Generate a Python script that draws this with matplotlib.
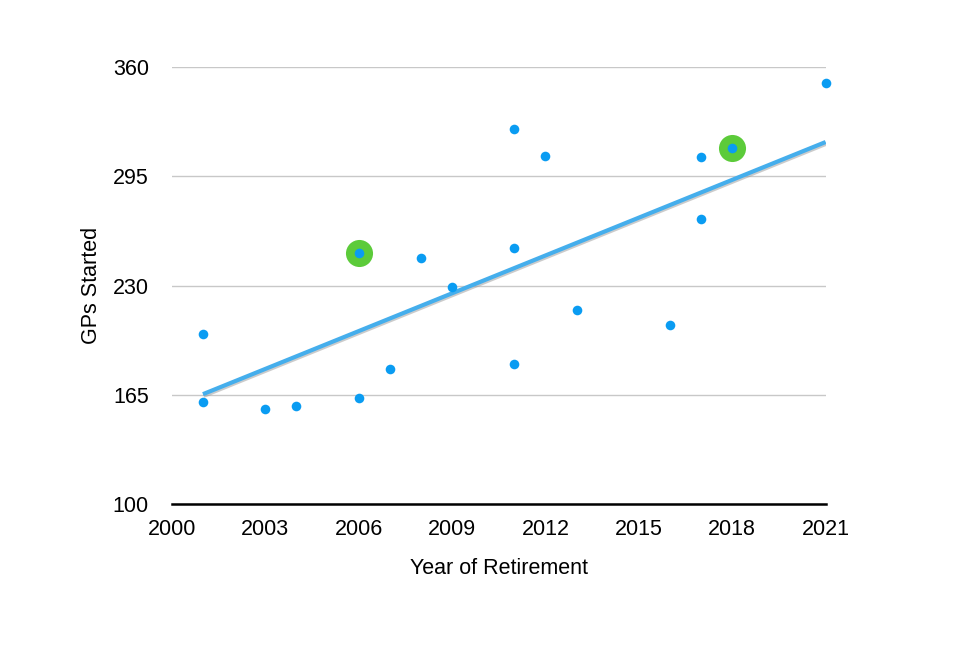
import numpy as np
import matplotlib.pyplot as plt
import matplotlib.patheffects as pe

# Data
years = [2001, 2001, 2003, 2004, 2006, 2006, 2007, 2008, 2009, 2011,
         2011, 2011, 2012, 2013, 2016, 2017, 2017, 2018, 2021]
gps_started = [201, 161, 156.5, 158.3, 249.3, 163, 180.3, 246.3, 229, 323,
               252.3, 183.3, 307, 215.4, 206.5, 306.4, 269.5, 311.8, 350.4]
highlight_years = [2006, 2018]
highlight_gps = [249.3, 311.8]

# trendline as drawn in the chart (start / end)
trend_years = [2001, 2021]
trend_gps = [165.4, 315.5]

x_ticks = [2000, 2003, 2006, 2009, 2012, 2015, 2018, 2021]
y_ticks = [100, 165, 230, 295, 360]

plt.rcParams['font.family'] = ['Liberation Sans', 'DejaVu Sans']

fig = plt.figure(figsize=(9.6, 6.47), dpi=100)
ax = fig.add_axes([0.179, 0.221, 0.681, 0.675])

ax.plot(trend_years, trend_gps, color="#45AEEC", linewidth=3, zorder=3,
        solid_capstyle="butt",
        path_effects=[pe.SimpleLineShadow(offset=(0.5, -1.2), shadow_color="#999999", alpha=0.5),
                      pe.Normal()])

ax.scatter(highlight_years, highlight_gps, s=380, color="#5CCB3A", zorder=4,
           linewidths=0, clip_on=False)
ax.scatter(years, gps_started, s=48, color="#0A9CF2", zorder=5,
           linewidths=0, clip_on=False)

ax.set_xlim(2000, 2021)
ax.set_ylim(100, 360)
ax.set_xticks(x_ticks)
ax.set_yticks(y_ticks)
ax.tick_params(axis="both", length=0, labelsize=15.5)
ax.tick_params(axis="y", pad=16.5)
ax.tick_params(axis="x", pad=10.5)
ax.grid(axis="y", color="#C8C8C8", linewidth=1)
ax.set_axisbelow(True)
for side in ["top", "right", "left"]:
    ax.spines[side].set_visible(False)
ax.spines["bottom"].set_linewidth(1.8)
ax.spines["bottom"].set_zorder(6)

ax.set_xlabel("Year of Retirement", fontsize=15.5, labelpad=13)
ax.set_ylabel("GPs Started", fontsize=15.5, labelpad=8)

fig.savefig("out.png", dpi=100, facecolor="white")
